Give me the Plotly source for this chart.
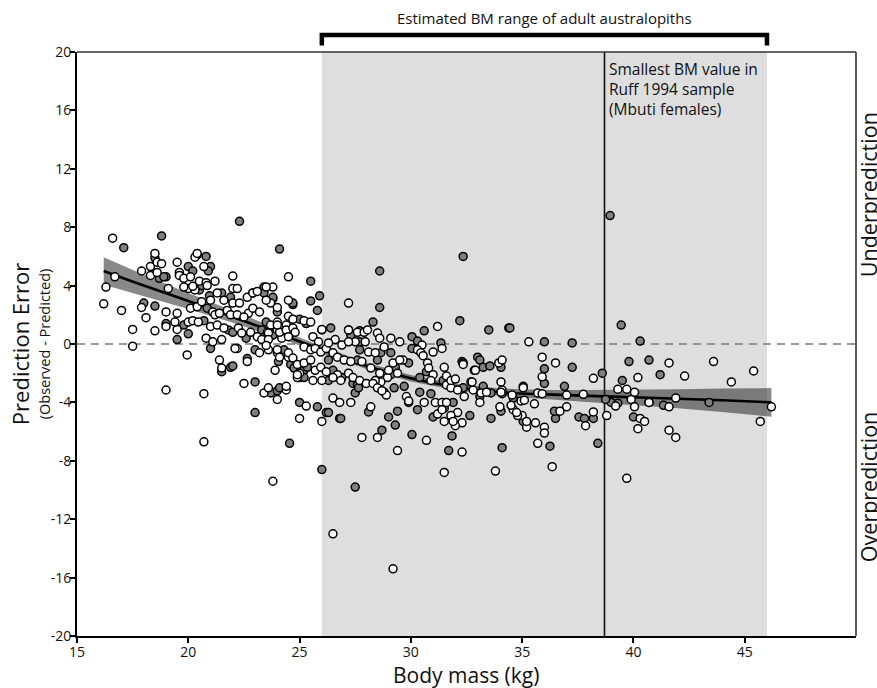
import plotly.graph_objects as go

# ---------------- data ----------------
open_x = [16.2, 16.3, 16.6, 16.7, 17.0, 17.5, 17.5, 17.9, 17.9, 18.1, 18.3, 18.5, 18.6, 18.8, 18.3, 18.6, 18.5, 19.0, 19.0, 19.1,
          19.0, 19.5, 19.6, 19.5, 19.4, 19.5,
          19.95, 20.7, 20.7, 20.3, 20.7, 20.4, 19.6, 19.8, 20.1, 20.5, 20.8, 20.0, 20.3, 21.3, 21.6, 22.0, 22.3, 20.1, 20.4, 20.6,
          21.1, 21.2, 21.4, 21.75, 21.9, 22.2, 20.0, 20.2, 20.45, 21.0, 21.3, 21.6, 22.25, 22.4, 20.8, 21.1, 21.5, 22.2, 22.1,
          21.4, 21.5, 22.0, 22.0, 22.2, 21.0, 19.8, 20.2, 20.85, 21.2,
          22.5, 22.65, 23.4, 24.4, 24.0, 23.8, 22.65, 22.9, 23.1, 23.8, 23.7, 24.0, 22.7, 22.9, 23.2, 23.7, 24.0, 22.8, 23.1,
          23.3, 23.55, 24.0, 24.2, 23.2, 23.6, 24.0, 23.5, 23.5, 23.6, 23.6, 23.5, 24.0, 23.9, 23.6, 22.5,
          24.5, 24.5, 24.4, 24.5, 24.5, 24.4, 24.9, 25.0, 25.3, 25.0, 26.0, 24.5, 24.7, 25.2, 25.5, 24.1, 24.4, 24.7, 24.8, 24.5,
          25.6, 25.85, 25.2, 25.5, 25.7, 25.95, 24.1, 24.5, 24.7, 24.9, 25.2, 25.5, 25.7, 25.95, 24.9, 25.6, 26.0, 26.0, 24.0,
          27.2, 26.5, 29.2, 26.6, 26.9, 27.2, 27.6, 27.9, 28.05, 28.5, 27.95, 28.1, 28.4, 26.2, 26.5, 26.7, 27.0, 27.3, 27.8,
          28.2, 28.6, 26.2, 26.7, 26.85, 27.2, 27.4, 27.7, 28.0, 26.5, 26.5, 26.8, 27.3, 27.8, 28.5, 28.2, 29.4, 29.5, 28.8,
          29.65, 29.2, 29.4, 28.95, 28.65, 28.4, 28.3, 28.5, 28.8, 28.9, 29.8, 29.0, 28.7, 26.3, 27.5, 27.2, 28.6, 29.1, 29.5,
          31.2, 30.5, 31.4, 31.0, 30.3, 30.45, 30.55, 30.75, 30.8, 31.0, 30.9, 31.6, 31.8, 32.1, 32.7, 32.8, 33.15, 33.4, 34.05,
          34.1, 32.35, 32.9, 33.95, 30.6, 30.7, 31.1, 31.4, 31.6, 32.4, 33.1, 34.0, 34.1, 31.5, 32.35, 31.5, 32.3, 33.8, 31.5,
          32.1, 32.3, 31.2, 31.8, 32.0, 31.4, 31.9, 32.75, 31.6, 31.8, 32.0, 34.05, 29.9,
          35.3, 34.55, 35.05, 34.95, 35.1, 34.6, 35.0, 34.8, 35.2, 35.2, 35.55, 35.6, 36.0, 36.0, 35.7, 35.9, 35.9, 35.9, 36.5,
          37.0, 37.0, 36.7, 37.75, 37.85, 38.2, 38.2, 35.7, 36.35, 34.5, 34.75,
          39.2, 38.8, 39.9, 40.05, 39.7, 39.3, 40.2, 41.6, 42.3, 43.6, 44.4, 45.4, 40.05, 40.7, 41.6, 41.9, 40.3, 40.5, 40.2,
          41.6, 41.9, 39.7, 45.7, 46.2]
open_y = [2.75, 3.9, 7.25, 4.6, 2.3, 1.0, -0.15, 5.0, 2.5, 1.8, 5.3, 6.2, 5.6, 5.5, 4.7, 4.9, 0.9, 1.2, 2.2, 3.8,
          -3.15, 5.6, 4.9, 1.0, 1.5, 2.1,
          -0.75, -3.4, -6.7, 5.95, 5.3, 6.2, 4.7, 4.5, 4.6, 4.3, 4.2, 3.8, 3.7, 3.5, 3.0, 2.8, 2.8, 2.45, 2.55, 2.9,
          2.2, 2.0, 2.1, 2.3, 2.0, 2.0, 1.5, 1.6, 1.5, 1.2, 1.3, 1.1, 1.1, 0.75, 0.4, 0.15, 0.3, -0.3, -0.3,
          -1.1, -1.65, 4.65, 3.8, 3.8, 3.0, 3.9, 3.95, 4.0, 4.3,
          -2.7, -1.2, -3.35, -3.15, -3.8, -9.4, 3.2, 3.5, 3.6, 3.9, 2.8, 2.5, 2.1, 2.45, 2.2, 1.3, 1.5, 0.8, 0.5,
          0.3, 0.8, 0.96, 0.4, -0.6, -0.4, -0.6, 3.9, 3.0, 0.75, 0.3, -0.1, -0.4, -1.8, -3.0, 1.85,
          4.6, 3.0, 1.3, 0.8, -0.9, -2.9, -2.3, -2.0, -4.25, -5.1, -5.3, 1.9, 1.7, 1.6, 1.5, 0.8, 0.96, 1.1, 0.8, 0.5,
          0.5, 0.15, -0.2, -0.4, -0.3, -0.55, -0.9, -0.6, -0.96, -1.4, -1.3, -1.1, -1.8, -1.6, -2.1, -2.5, -2.5, 1.0, 1.3,
          2.8, -13.0, -15.4, 0.3, -0.07, 0.96, 0.8, 0.8, 0.96, 0.75, 0.15, -0.55, -0.6, -0.3, -0.6, -0.9, -1.1, -1.2, -1.2,
          -1.65, -2.0, -1.9, -2.1, -2.5, -2.0, -2.3, -2.5, -2.7, -2.3, -3.7, -4.0, -4.0, -6.4, -6.4, -4.3, -7.3, 0.15, -0.2,
          -1.1, -1.3, -2.0, -2.3, -2.6, -2.5, -2.7, -3.0, -3.3, -3.5, -3.6, -1.8, -3.2, 0.07, 0.15, 0.15, 0.4, 0.4, -1.1,
          1.2, -0.07, -0.3, -0.55, -0.4, -0.6, -0.8, -1.3, -1.65, -2.1, -2.5, -2.8, -3.0, -3.15, -2.6, -3.15, -3.35, -3.3, -2.6,
          -3.15, -1.3, -1.8, -1.3, -4.0, -6.6, -4.0, -4.0, -4.0, -3.6, -4.0, -4.3, -1.1, -1.6, -1.4, -8.8, -7.4, -8.7, -5.3,
          -4.7, -5.4, -4.8, -4.9, -5.6, -4.5, -5.3, -2.6, -2.2, -2.5, -2.4, -3.3, -3.9,
          0.15, -3.5, -3.0, -3.9, -3.85, -4.5, -4.9, -4.9, -5.7, -5.3, -4.1, -5.4, -5.7, -6.1, -3.35, -3.4, -0.9, -2.25, -1.3,
          -3.5, -4.3, -4.6, -3.45, -5.6, -4.65, -2.35, -6.8, -8.4, -4.2, -4.7,
          -4.25, -4.9, -3.8, -3.3, -3.1, -3.1, -2.3, -1.3, -2.2, -1.2, -2.6, -1.85, -4.3, -4.0, -4.3, -3.7, -5.1, -5.3, -5.8,
          -5.9, -6.4, -9.2, -5.3, -4.3]

gray_x = [17.1, 18.8, 18.0, 18.5, 18.5, 18.7, 19.0, 19.0, 19.5, 18.9,
          20.4, 20.8, 20.0, 21.0, 20.5, 21.5, 21.9, 20.85, 19.8, 20.7, 21.8, 22.0, 21.0, 21.5, 21.9, 22.0, 20.0, 20.95,
          20.9, 20.2, 20.6,
          22.3, 24.1, 23.0, 23.0, 23.7, 24.0, 22.9, 23.4, 23.8, 24.0, 23.5, 22.6, 23.8, 22.65, 23.0, 24.3, 23.4, 23.3, 24.05,
          24.1, 23.8,
          25.5, 25.9, 24.7, 25.5, 25.8, 25.0, 25.3, 24.55, 25.0, 25.8, 26.0, 24.6, 24.75, 25.0, 25.2, 25.0, 25.2, 25.35,
          26.0, 24.7,
          28.6, 28.6, 28.3, 26.4, 27.3, 27.7, 27.7, 26.3, 27.6, 26.9, 26.3, 26.5, 27.4, 27.6, 27.5, 27.65, 26.2, 26.3,
          26.8, 26.85, 27.5, 28.1, 28.7, 29.0, 29.3, 29.4, 28.65, 29.1, 28.5, 29.3, 29.1, 29.25, 29.7, 29.9, 27.2, 27.7,
          32.2, 30.6, 33.5, 34.4, 30.05, 30.3, 31.35, 30.05, 30.7, 31.45, 32.35, 33.6, 32.3, 33.0, 33.1, 33.25, 34.05,
          30.4, 30.4, 30.9, 33.1, 33.25, 34.1, 34.05, 29.9, 30.3, 31.0, 30.05, 31.7, 31.85, 33.6, 34.1, 32.65, 32.85,
          33.55, 31.5, 31.9, 32.35,
          36.0, 37.25, 34.45, 36.0, 36.0, 37.25, 36.9, 36.5, 36.45, 37.55, 37.8, 38.2, 38.6, 38.4, 36.25, 35.05, 35.05,
          34.6,
          38.95, 39.45, 40.3, 39.8, 40.7, 41.2, 39.5, 39.0, 39.3, 40.0, 40.7, 41.35, 43.4, 38.75]
gray_y = [6.6, 7.4, 2.8, 2.6, 5.9, 4.5, 4.6, 1.4, 0.3, 4.6,
          6.1, 6.0, 5.3, 5.3, 3.7, 3.5, 3.2, 2.45, 1.3, 1.6, 0.96, 0.8, -0.3, -1.9, -1.6, -1.5, 0.7, 3.3,
          5.0, 5.0, 4.0,
          8.4, 6.5, -2.6, -4.7, -3.35, -3.2, 3.5, 3.9, 3.1, 2.2, 1.5, 0.4, 0.6, -1.0, -0.4, -0.4, 3.5, 0.96, -1.2,
          -3.0, 3.2,
          4.3, 3.3, 2.7, 2.95, 2.3, 1.7, 1.4, -6.8, -4.0, -4.3, -8.6, -1.4, -1.65, -1.5, -1.8, -2.3, -2.3, -1.6,
          0.96, 2.8,
          5.0, 2.5, 1.5, 1.1, 0.6, 0.15, -0.4, -1.1, -1.1, -2.3, -2.5, -1.8, -2.7, -2.8, -3.35, -3.0, -4.7, -4.7,
          -5.1, -5.1, -9.8, -4.65, -5.9, -5.0, -5.55, -4.6, -0.6, -0.6, -1.1, -1.6, -2.1, -3.0, -2.9, -1.3, 0.96, 0.9,
          1.6, 0.9, 0.96, 1.1, 0.5, 0.2, 0.07, -0.3, -1.9, -2.5, -3.0, -3.35, -1.2, -0.9, -1.1, -1.6, -1.6,
          -2.3, -3.3, -3.4, -3.6, -2.9, -3.4, -4.6, -4.0, -4.5, -5.0, -6.2, -7.3, -6.3, -5.1, -7.1, -4.9, -1.8,
          -1.5, -4.4, -4.0, 6.0,
          0.15, 0.07, 1.1, -1.7, -2.7, -1.6, -2.9, -5.1, -4.6, -5.0, -5.1, -5.1, -2.0, -6.8, -7.0, -2.9, -5.3,
          -3.7,
          8.8, 1.3, 0.2, -1.2, -1.1, -2.1, -2.5, -4.0, -4.05, -5.0, -4.0, -4.2, -4.0, -3.8]

fit_x = [16.2, 18, 20, 22, 24, 26, 28, 30, 32, 34, 36, 38, 40, 42, 44, 46.2]
fit_y = [5.0, 4.0, 2.95, 1.85, 0.75, -0.4, -1.5, -2.35, -2.95, -3.3, -3.45, -3.55, -3.65, -3.75, -3.85, -4.0]
fit_hi = [5.95, 4.75, 3.5, 2.25, 1.05, -0.15, -1.28, -2.13, -2.73, -3.05, -3.15, -3.15, -3.15, -3.1, -3.05, -3.02]
fit_lo = [4.05, 3.25, 2.4, 1.45, 0.45, -0.65, -1.72, -2.57, -3.17, -3.55, -3.75, -3.95, -4.15, -4.4, -4.65, -4.98]

x_ticks = [15, 20, 25, 30, 35, 40, 45]
x_tick_text = ["15", "20", "25", "30", "35", "40", "45"]
y_ticks = [-20, -16, -12, -8, -4, 0, 4, 8, 12, 16, 20]
y_tick_text = ["-20", "-16", "-12", "-8", "-4", "0", "4", "8", "12", "16", "20"]

australopith_range = [26, 46]
smallest_bm = 38.7
x_range = [15, 50]
y_range = [-20, 20]

FONT = "Open Sans"

fig = go.Figure()

# confidence band
fig.add_trace(go.Scatter(x=fit_x, y=fit_hi, mode="lines", line=dict(width=0, color="rgba(0,0,0,0)"),
                         showlegend=False, hoverinfo="skip"))
fig.add_trace(go.Scatter(x=fit_x, y=fit_lo, mode="lines", line=dict(width=0, color="rgba(0,0,0,0)"),
                         fill="tonexty", fillcolor="rgba(40,40,40,0.55)", showlegend=False, hoverinfo="skip"))
# fit line
fig.add_trace(go.Scatter(x=fit_x, y=fit_y, mode="lines", line=dict(color="black", width=2.6, shape="spline"),
                         showlegend=False))

marker_common = dict(size=8, line=dict(color="black", width=1.5))
fig.add_trace(go.Scatter(x=gray_x, y=gray_y, mode="markers",
                         marker=dict(color="#808080", **marker_common), showlegend=False))
fig.add_trace(go.Scatter(x=open_x, y=open_y, mode="markers",
                         marker=dict(color="white", **marker_common), showlegend=False))

shapes = [
    dict(type="rect", xref="x", yref="y", x0=australopith_range[0], x1=australopith_range[1],
         y0=y_range[0], y1=y_range[1], fillcolor="#dedede", line=dict(width=0), layer="below"),
    dict(type="line", xref="x", yref="y", x0=x_range[0], x1=x_range[1], y0=0, y1=0,
         line=dict(color="#7a7a7a", width=1.6, dash="8px,6px"), layer="below"),
    dict(type="line", xref="x", yref="y", x0=smallest_bm, x1=smallest_bm, y0=y_range[0], y1=y_range[1],
         line=dict(color="#111111", width=1.6), layer="below"),
    # top and right frame
    dict(type="line", xref="paper", yref="paper", x0=0, x1=1, y0=1, y1=1, line=dict(color="#333333", width=1.6)),
    dict(type="line", xref="paper", yref="paper", x0=1, x1=1, y0=0, y1=1, line=dict(color="#333333", width=1.6)),
    # bracket
    dict(type="path", xref="x", yref="paper",
         path=f"M {australopith_range[0]},1.011 L {australopith_range[0]},1.029 "
              f"L {australopith_range[1]},1.029 L {australopith_range[1]},1.011",
         line=dict(color="black", width=4.5)),
]

annotations = [
    dict(text="Estimated BM range of adult australopiths", xref="x", yref="paper",
         x=sum(australopith_range) / 2, y=1.058, xanchor="center", yanchor="middle", showarrow=False,
         font=dict(size=15, color="#111", family=FONT)),
    dict(text="Smallest BM value in<br>Ruff 1994 sample<br>(Mbuti females)", xref="x", yref="y",
         x=smallest_bm + 0.1, y=19.75, xanchor="left", yanchor="top", align="left", showarrow=False,
         font=dict(size=15.5, color="#111", family=FONT)),
    dict(text="Prediction Error", xref="paper", yref="paper", x=-0.073, y=0.50, textangle=-90,
         xanchor="center", yanchor="middle", showarrow=False, font=dict(size=22, color="#111", family=FONT)),
    dict(text="(Observed - Predicted)", xref="paper", yref="paper", x=-0.042, y=0.50, textangle=-90,
         xanchor="center", yanchor="middle", showarrow=False, font=dict(size=14.5, color="#111", family=FONT)),
    dict(text="Body mass (kg)", xref="paper", yref="paper", x=0.4994, y=-0.067, xanchor="center",
         yanchor="middle", showarrow=False, font=dict(size=21, color="#111", family=FONT)),
    dict(text="Underprediction", xref="paper", yref="paper", x=1.0155, y=0.755, textangle=-90,
         xanchor="center", yanchor="middle", showarrow=False, font=dict(size=21.5, color="#111", family=FONT)),
    dict(text="Overprediction", xref="paper", yref="paper", x=1.0155, y=0.255, textangle=-90,
         xanchor="center", yanchor="middle", showarrow=False, font=dict(size=21.5, color="#111", family=FONT)),
]

fig.update_layout(
    width=877, height=688,
    margin=dict(l=77, r=21, t=52, b=52),
    paper_bgcolor="white", plot_bgcolor="white",
    shapes=shapes, annotations=annotations,
    font=dict(family=FONT, color="#111"),
    showlegend=False,
)
fig.update_xaxes(range=x_range, tickvals=x_ticks, ticktext=x_tick_text, showgrid=False, zeroline=False,
                 showline=True, linecolor="black", linewidth=2, ticks="outside", ticklen=5, tickwidth=1.5,
                 tickcolor="black", ticklabelstandoff=-3, tickfont=dict(size=14, family=FONT, color="#111"))
fig.update_yaxes(range=y_range, tickvals=y_ticks, ticktext=y_tick_text, showgrid=False, zeroline=False,
                 showline=True, linecolor="black", linewidth=2, ticks="outside", ticklen=5, tickwidth=1.5,
                 tickcolor="black", ticklabelstandoff=-4, tickfont=dict(size=14, family=FONT, color="#111"))

fig.write_html("out.html", config={"displayModeBar": False},
               post_script="document.body.style.margin='0px';")
